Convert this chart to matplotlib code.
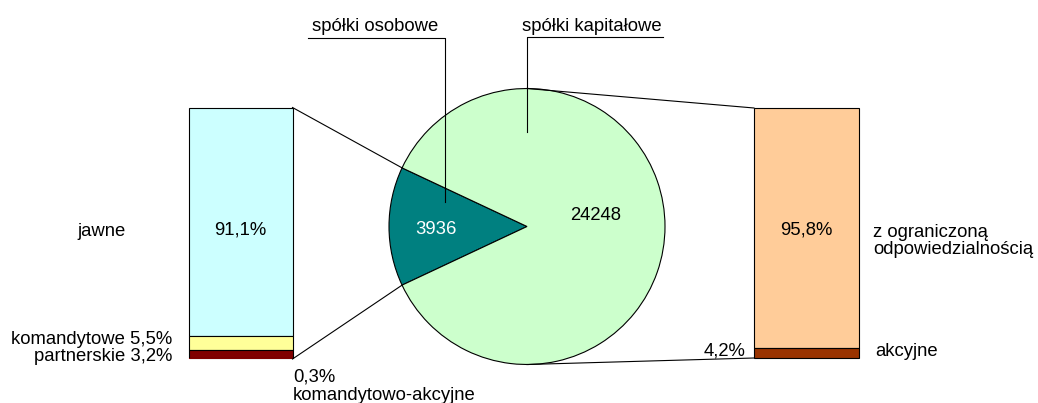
import math
import matplotlib
matplotlib.use('Agg')
import matplotlib.pyplot as plt

plt.rcParams['font.family'] = ['Liberation Sans', 'DejaVu Sans']
plt.rcParams['font.size'] = 13.3

# data
pie_labels = ['spółki osobowe', 'spółki kapitałowe']
pie_values = [3936, 24248]
pie_colors = ['#008080', '#CCFFCC']

left_labels = ['jawne', 'komandytowe', 'partnerskie', 'komandytowo-akcyjne']
left_pct = [91.1, 5.5, 3.2, 0.3]
left_colors = ['#CCFFFF', '#FFFF99', '#800000', '#800000']

right_labels = ['z ograniczoną\nodpowiedzialnością', 'akcyjne']
right_pct = [95.8, 4.2]
right_colors = ['#FFCC99', '#993300']


def pct_txt(v):
    return str(v).replace('.', ',') + '%'


fig = plt.figure(figsize=(10.38, 4.03), dpi=100)
ax = fig.add_axes([0, 0, 1, 1])

# pie (pixel coordinates, y down)
cx, cy, r = 527, 226.5, 138
half = 180 * pie_values[0] / sum(pie_values)
ax.pie(pie_values, colors=pie_colors, center=(cx, cy), radius=r,
       startangle=180 - half, counterclock=True,
       wedgeprops=dict(edgecolor='black', linewidth=0.8))
ax.text(436, 229, str(pie_values[0]), color='white', ha='center', va='center')
ax.text(596, 216, str(pie_values[1]), color='black', ha='center', va='center')

# left bar
lx, lw, ltop, lbot = 188.5, 104, 107.5, 359
lh = lbot - ltop
y = ltop
for lab, p, c in zip(left_labels, left_pct, left_colors):
    h = p / sum(left_pct) * lh
    ax.bar(lx, h, bottom=y, width=lw, align='edge', color=c,
           edgecolor='black', linewidth=0.8 if p > 1 else 0)
    y += h

# right bar
rx, rw, rtop, rbot = 754, 104.5, 108, 358
rh = rbot - rtop
y = rtop
for lab, p, c in zip(right_labels, right_pct, right_colors):
    h = p / sum(right_pct) * rh
    ax.bar(rx, h, bottom=y, width=rw, align='edge', color=c,
           edgecolor='black', linewidth=0.8)
    y += h

# connector lines
ex = cx - r * math.cos(math.radians(half))
ey = r * math.sin(math.radians(half))
ax.plot([lx + lw, ex], [ltop, cy - ey], color='black', lw=0.8)
ax.plot([lx + lw, ex], [lbot, cy + ey], color='black', lw=0.8)
ax.plot([cx, rx], [cy - r, rtop], color='black', lw=0.8)
ax.plot([cx, rx], [cy + r, rbot], color='black', lw=0.8)

# pie category labels with leader lines
ax.text(311.5, 31, pie_labels[0], ha='left', va='baseline')
ax.plot([308, 445, 445], [38, 38, 202], color='black', lw=0.8)
ax.text(522, 31, pie_labels[1], ha='left', va='baseline')
ax.plot([663, 527, 527], [36.5, 36.5, 132], color='black', lw=0.8)

# left bar labels
ax.text(lx + lw / 2, 230, pct_txt(left_pct[0]), ha='center', va='center')
ax.text(77, 231, left_labels[0], ha='left', va='center')
ax.text(172, 344, left_labels[1] + ' ' + pct_txt(left_pct[1]), ha='right', va='baseline')
ax.text(172, 361, left_labels[2] + ' ' + pct_txt(left_pct[2]), ha='right', va='baseline')
ax.text(293, 381.5, pct_txt(left_pct[3]), ha='left', va='baseline')
ax.text(293, 400, left_labels[3], ha='left', va='baseline')

# right bar labels
ax.text(rx + rw / 2, 230, pct_txt(right_pct[0]), ha='center', va='center')
ax.text(873, 241, right_labels[0], ha='left', va='center', linespacing=0.95)
ax.text(746, 356, pct_txt(right_pct[1]), ha='right', va='baseline')
ax.text(875, 356, right_labels[1], ha='left', va='baseline')

ax.set_xlim(0, 1038)
ax.set_ylim(403, 0)
ax.set_aspect('equal')
ax.axis('off')

fig.savefig('out.png', dpi=100)
